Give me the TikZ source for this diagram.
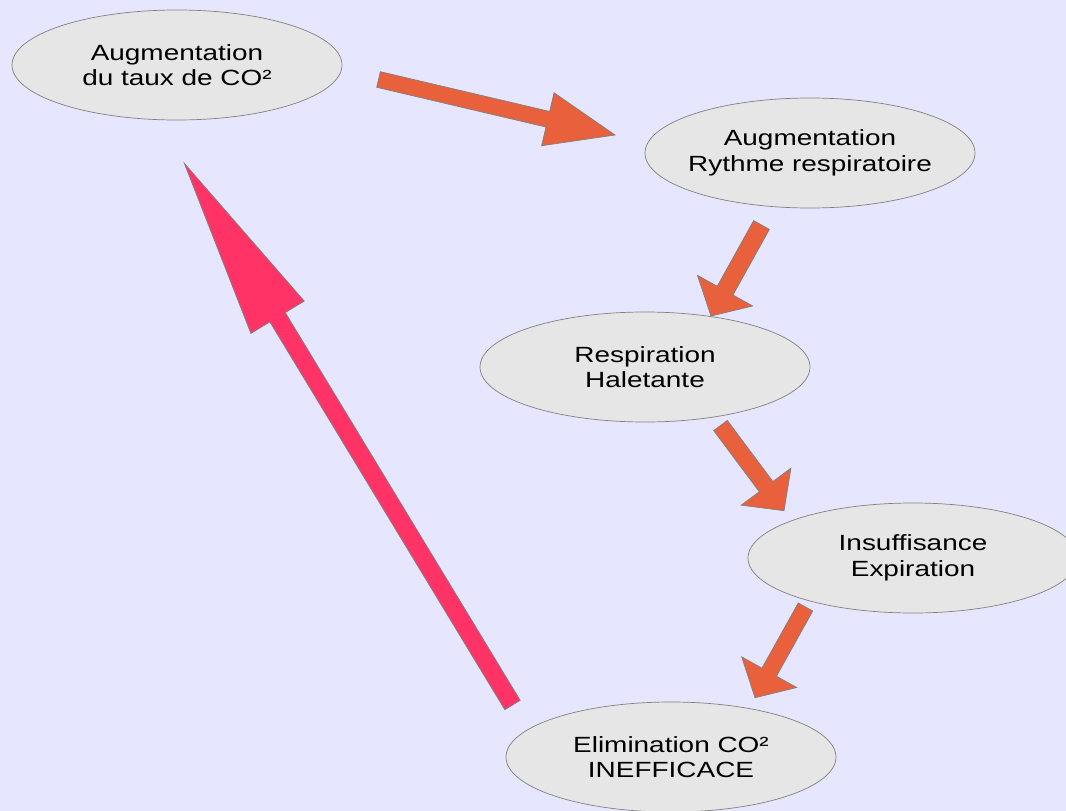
\documentclass[tikz,border=0pt]{standalone}
\usepackage{fontspec}
\usetikzlibrary{shapes.geometric,calc}
\newfontfamily\schemafont[FakeStretch=1.27]{Liberation Sans}
\definecolor{fondbleu}{HTML}{E6E6FF}
\definecolor{bulle}{HTML}{E6E6E6}
\definecolor{contour}{HTML}{808080}
\definecolor{orangeflux}{HTML}{E8613C}
\definecolor{roseretour}{HTML}{FF3366}
\tikzset{
  etape/.style={ellipse, draw=contour, fill=bulle, line width=0.7pt,
    minimum width=330pt, minimum height=110pt, inner xsep=-40pt, inner ysep=0pt,
    align=center, font={\schemafont\fontsize{22}{25.5}\selectfont}},
  bloc/.style={draw=contour, line width=0.7pt}
}
% block arrow: colour, tail, tip, half shaft, half head, head length
\newcommand{\blockarrow}[6]{%
  \coordinate (ba-base) at ($(#3)!#6!(#2)$);
  \draw[bloc, fill=#1] ($(#2)!#4!90:(#3)$) -- ($(ba-base)!#4!90:(#3)$)
    -- ($(ba-base)!#5!90:(#3)$) -- (#3) -- ($(ba-base)!#5!-90:(#3)$)
    -- ($(ba-base)!#4!-90:(#3)$) -- ($(#2)!#4!-90:(#3)$) -- cycle;
}
\begin{document}
\begin{tikzpicture}[x=1pt, y=-1pt]
% background
\fill[fondbleu] (0,0) rectangle (1066,811);
\useasboundingbox (0,0) rectangle (1066,811);

% steps of the cycle
\node[etape] (taux) at (177,65) {Augmentation\\du taux de CO²};
\node[etape] (rythme) at (810,153) {Augmentation\\Rythme respiratoire};
\node[etape] (haletante) at (645,367) {Respiration\\Haletante};
\node[etape] (expiration) at (913,558) {Insuffisance\\Expiration};
\node[etape] (elimination) at (671,757) {Elimination CO²\\INEFFICACE};

% arrow ends
\coordinate (taux-out) at (378.5,79.5);
\coordinate (rythme-in) at (615,135);
\coordinate (rythme-out) at (761.5,225);
\coordinate (haletante-in) at (711,316);
\coordinate (haletante-out) at (720.5,425.5);
\coordinate (expiration-in) at (784,510.7);
\coordinate (expiration-out) at (805.5,607);
\coordinate (elimination-in) at (755,697.7);
\coordinate (elimination-out) at (512.5,705);
\coordinate (taux-in) at (184.3,163.3);

% block arrows
\blockarrow{orangeflux}{taux-out}{rythme-in}{8pt}{27.2pt}{69pt}
\blockarrow{orangeflux}{rythme-out}{haletante-in}{9pt}{31.6pt}{29pt}
\blockarrow{orangeflux}{haletante-out}{expiration-in}{8.5pt}{31pt}{30pt}
\blockarrow{orangeflux}{expiration-out}{elimination-in}{8.3pt}{31.5pt}{29.2pt}
\blockarrow{roseretour}{elimination-out}{taux-in}{9pt}{31.2pt}{180pt}

\end{tikzpicture}
\end{document}
